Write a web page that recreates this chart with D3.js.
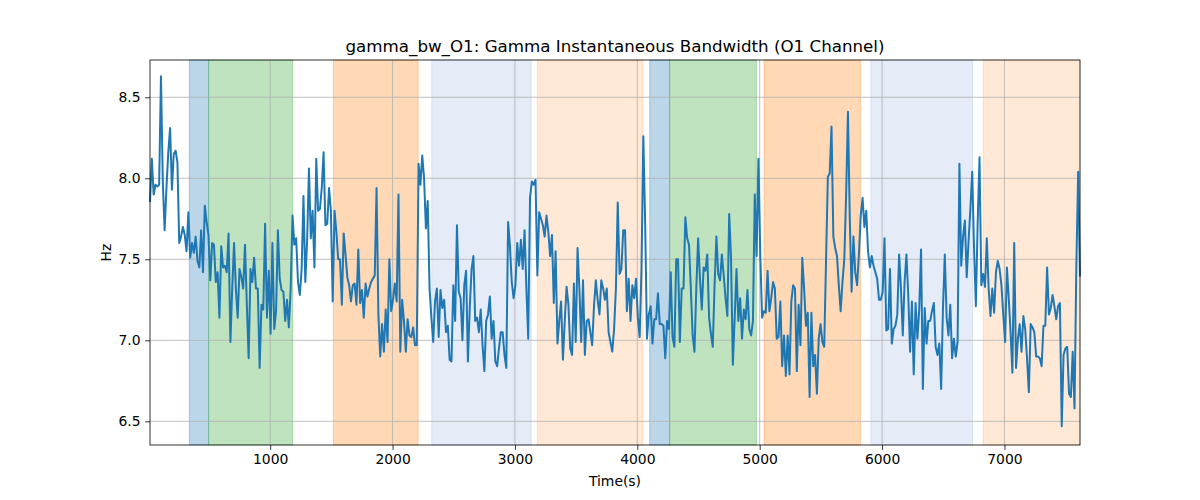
<!DOCTYPE html>
<html><head><meta charset="utf-8">
<script src="https://cdn.jsdelivr.net/npm/d3@7"></script>
<style>body{margin:0;background:#fff}svg{display:block}text{font-family:"DejaVu Sans",sans-serif}</style>
</head><body><svg id="c" width="1200" height="500"></svg>
<script>
const title = "gamma_bw_O1: Gamma Instantaneous Bandwidth (O1 Channel)";
const xLabel = "Time(s)";
const yLabel = "Hz";
const xTicks = [1000, 2000, 3000, 4000, 5000, 6000, 7000];
const yTicks = [6.5, 7.0, 7.5, 8.0, 8.5];
const yLimits = [6.354, 8.730];

// shaded epochs (seconds)
const bandStart = [339, 497, 1517, 2320, 3182, 4101, 4264, 5035, 5908, 6826];
const bandEnd   = [497, 1184, 2209, 3133, 4046, 4264, 4973, 5823, 6739, 7617];
const bandType  = ["A", "B", "C", "D", "E", "A", "B", "C", "D", "E"];

// sampling
const tStart = 18;
const tStep = 14.93;

// gamma bandwidth (Hz)
const bw = [
7.86, 8.12, 7.90, 7.96, 7.95, 7.96, 8.63, 7.98, 7.68, 7.94,
8.16, 8.31, 7.93, 8.15, 8.17, 8.10, 7.60, 7.64, 7.70, 7.65,
7.55, 7.79, 7.51, 7.60, 7.54, 7.64, 7.49, 7.45, 7.68, 7.42,
7.83, 7.73, 7.65, 7.37, 7.60, 7.59, 7.36, 7.42, 7.14, 7.58,
7.45, 7.46, 7.42, 7.66, 6.99, 7.32, 7.60, 7.32, 7.14, 7.44,
7.39, 7.32, 7.59, 7.22, 6.89, 7.44, 7.36, 7.51, 7.32, 7.32,
6.83, 7.22, 7.19, 7.72, 7.14, 7.43, 7.04, 7.60, 7.07, 7.18,
7.68, 7.38, 7.31, 7.30, 7.12, 7.25, 7.08, 7.32, 7.77, 7.59,
7.63, 7.36, 7.28,
7.44, 7.89, 7.36, 7.62, 8.06, 7.63, 7.80, 7.45, 8.12, 7.80,
7.81, 7.94, 8.16, 7.71, 7.72, 7.94, 7.80, 7.24, 7.80, 7.67,
7.50, 7.50, 7.22, 7.66, 7.53, 7.39, 7.34, 7.24, 7.34, 7.35,
7.22, 7.56, 7.23, 7.31, 7.14, 7.35, 7.27, 7.32, 7.36, 7.38,
7.40, 7.94, 7.16, 6.90, 7.10, 6.93, 7.19, 6.99, 7.50, 7.18,
7.25, 7.35, 7.24, 7.90, 6.93, 7.25, 7.12, 6.93, 7.13, 7.03,
7.02, 7.08, 6.97, 6.97, 8.09, 7.96, 8.14, 8.00, 7.69, 7.86,
7.32, 7.14, 6.99, 7.24, 7.32, 7.02, 7.31, 7.20, 7.25, 7.05,
7.09, 6.88,
6.87, 7.34, 7.12, 7.71, 7.30, 7.26, 7.00, 7.34, 7.43, 6.87,
7.20, 7.44, 7.52, 7.12, 7.14, 7.05, 7.19, 6.97, 6.81, 7.12,
7.16, 7.27, 7.01, 7.12, 6.87, 6.84, 6.95, 7.05, 7.05, 6.91,
6.83, 7.73, 7.58, 7.36, 7.26, 7.34, 7.60, 7.46, 7.62, 7.44,
7.68, 7.32, 7.01, 7.88, 7.98, 7.96, 7.99, 7.40, 7.79, 7.75,
7.71, 7.64, 7.77, 7.67, 7.52, 7.65, 7.23, 7.55, 6.98, 7.12,
7.24, 6.88, 7.12, 7.33, 7.22, 6.95, 6.91, 7.35, 6.99, 7.57,
7.32, 6.99, 7.37, 6.91, 7.12, 7.13, 7.05, 6.97, 7.21, 7.37,
7.25, 7.16,
7.37, 7.32, 7.25, 7.32, 7.05, 6.99, 6.93, 7.07, 7.32, 7.85,
7.41, 7.44, 7.68, 7.68, 7.18, 7.38, 7.12, 7.34, 7.26, 7.38,
7.14, 7.02, 7.44, 8.26, 7.73, 7.01, 7.16, 7.21, 6.98, 7.13,
7.13, 7.29, 7.10, 7.10, 7.09, 6.89, 7.12, 7.07, 7.42, 7.02,
6.96, 7.50, 7.50, 6.99, 7.32, 7.32, 7.76, 7.63, 7.59, 7.32,
7.03, 6.93, 7.32, 7.63, 7.38, 7.19, 7.45, 7.43, 7.53, 7.14,
7.04, 6.96, 7.34, 7.64, 7.41, 7.37, 7.53, 7.40, 7.26, 7.15,
7.78, 7.51, 6.85, 7.14, 7.44, 7.12, 7.26, 7.01, 7.19, 7.13,
7.31, 7.07,
7.03, 7.12, 7.90, 7.52, 8.12, 7.53, 7.14, 7.18, 7.17, 7.43,
7.18, 7.26, 7.36, 7.32, 7.01, 7.02, 7.24, 6.84, 7.03, 6.78,
7.03, 6.79, 7.24, 7.34, 7.32, 6.81, 7.22, 6.97, 7.51, 7.32,
7.09, 7.17, 6.65, 7.17, 6.84, 6.91, 6.67, 7.01, 7.10, 6.99,
6.96, 7.49, 8.01, 8.03, 8.32, 7.64, 7.57, 7.52, 7.34, 7.18,
7.36, 7.50, 7.90, 8.41, 7.75, 7.30, 7.64, 7.42, 7.34, 7.53,
7.77, 7.88, 7.70, 7.80, 7.55, 7.45, 7.52, 7.46, 7.42, 7.38,
7.25, 7.25, 7.30, 7.63, 7.06, 7.07, 7.44, 6.98, 7.07, 7.09,
7.16, 7.53,
7.32, 7.03, 7.36, 7.53, 7.28, 6.93, 7.24, 6.79, 7.23, 7.01,
7.19, 7.56, 6.70, 7.20, 6.98, 7.12, 7.12, 7.18, 7.23, 6.96,
6.91, 6.98, 6.70, 7.20, 7.53, 7.14, 7.03, 7.22, 6.89, 7.01,
6.90, 6.99, 8.09, 7.46, 7.64, 7.74, 7.39, 7.61, 7.81, 8.04,
7.57, 7.21, 7.73, 8.13, 7.34, 7.41, 7.33, 7.63, 7.32, 7.15,
7.32, 7.17, 7.42, 7.49, 7.44, 7.34, 7.16, 6.99, 7.45, 7.26,
7.05, 6.80, 7.60, 6.83, 7.01, 7.10, 6.93, 7.15, 7.07, 6.89,
6.68, 7.10, 7.08, 7.05, 6.90, 6.90, 6.89, 6.84, 7.09, 7.09,
7.45, 7.16, 7.20, 7.28, 7.21, 7.13, 7.21, 7.23, 6.47, 6.91,
6.95, 6.96, 6.67, 6.65, 6.93, 6.58, 7.46, 8.04, 7.40
];

const bandStyle = {
  A: {fill: "#1f77b4", op: 0.3},
  B: {fill: "#2ca02c", op: 0.3},
  C: {fill: "#ff7f0e", op: 0.3},
  D: {fill: "#4f7fc8", op: 0.15},
  E: {fill: "#ff7f0e", op: 0.17}
};

const series = bw.map((v, i) => ({t: tStart + i * tStep, v}));
const bands = bandStart.map((s, i) => ({s, e: bandEnd[i], type: bandType[i]}));

const m = {l: 150, r: 120, t: 60, b: 55};
const W = 1200, H = 500;
const iw = W - m.l - m.r, ih = H - m.t - m.b;

const svg = d3.select("#c");
const g = svg.append("g").attr("transform", `translate(${m.l},${m.t})`);

const x = d3.scaleLinear().domain(d3.extent(series, d => d.t)).range([0, iw]);
const y = d3.scaleLinear().domain(yLimits).range([ih, 0]);

// bands
g.append("g").selectAll("rect").data(bands).join("rect")
  .attr("x", d => x(d.s)).attr("width", d => x(d.e) - x(d.s))
  .attr("y", 0).attr("height", ih)
  .attr("fill", d => bandStyle[d.type].fill)
  .attr("fill-opacity", d => bandStyle[d.type].op)
  .attr("stroke", d => bandStyle[d.type].fill)
  .attr("stroke-opacity", d => bandStyle[d.type].op)
  .attr("stroke-width", 1);

// grid
g.append("g").selectAll("line.gx").data(xTicks).join("line")
  .attr("x1", d => x(d)).attr("x2", d => x(d)).attr("y1", 0).attr("y2", ih)
  .attr("stroke", "#b0b0b0").attr("stroke-width", 0.8);
g.append("g").selectAll("line.gy").data(yTicks).join("line")
  .attr("y1", d => y(d)).attr("y2", d => y(d)).attr("x1", 0).attr("x2", iw)
  .attr("stroke", "#b0b0b0").attr("stroke-width", 0.8);

// line
g.append("path").datum(series)
  .attr("fill", "none").attr("stroke", "#1f77b4").attr("stroke-width", 2)
  .attr("stroke-linejoin", "round").attr("stroke-linecap", "square")
  .attr("d", d3.line().x(d => x(d.t)).y(d => y(d.v)));

// axes
const xAxis = d3.axisBottom(x).tickValues(xTicks).tickFormat(d3.format("d")).tickSizeOuter(0).tickSize(4.9).tickPadding(4.5);
const yAxis = d3.axisLeft(y).tickValues(yTicks).tickFormat(d3.format(".1f")).tickSizeOuter(0).tickSize(4.9).tickPadding(4.5);
const gx = g.append("g").attr("transform", `translate(0,${ih})`).call(xAxis);
const gy = g.append("g").call(yAxis);
[gx, gy].forEach(a => {
  a.select(".domain").remove();
  a.selectAll("line").attr("stroke", "#000").attr("stroke-width", 0.8);
  a.selectAll("text").attr("fill", "#000").style("font-size", "13.9px").style("font-family", "DejaVu Sans, sans-serif");
});

// frame
g.append("rect").attr("x", 0).attr("y", 0).attr("width", iw).attr("height", ih)
  .attr("fill", "none").attr("stroke", "#000").attr("stroke-width", 0.8);

// labels
svg.append("text").attr("x", m.l + iw / 2).attr("y", 52).attr("text-anchor", "middle")
  .style("font-size", "16.7px").text(title);
svg.append("text").attr("x", m.l + iw / 2).attr("y", 486).attr("text-anchor", "middle")
  .style("font-size", "13.9px").text(xLabel);
svg.append("text").attr("transform", `translate(111,${m.t + ih / 2}) rotate(-90)`).attr("text-anchor", "middle")
  .style("font-size", "13.9px").text(yLabel);
</script></body></html>
